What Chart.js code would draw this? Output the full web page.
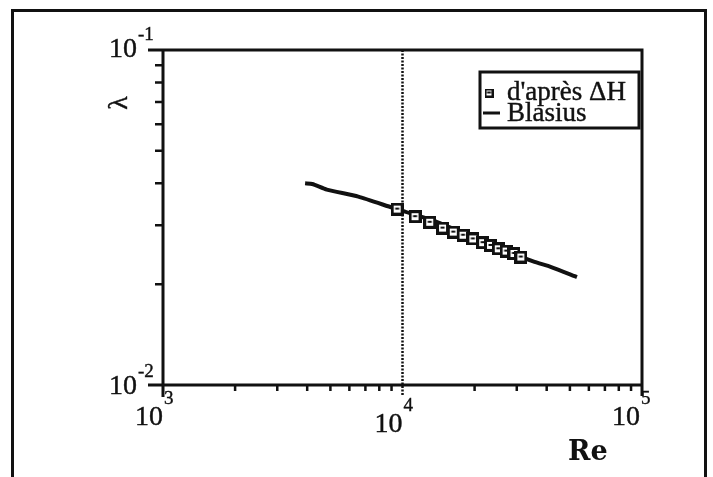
<!DOCTYPE html>
<html>
<head>
<meta charset="utf-8">
<script src="https://cdn.jsdelivr.net/npm/chart.js@4.4.1/dist/chart.umd.min.js"></script>
<style>
  html, body { margin: 0; padding: 0; background: #fff; }
  #wrap { position: relative; width: 713px; height: 477px; overflow: hidden; }
  #frame { position: absolute; left: 11px; top: 9px; width: 690px; height: 480px;
           border: 3px solid #111; border-bottom: none; }
  #c { position: absolute; left: 0; top: 0; }
</style>
</head>
<body>
<div id="wrap">
  <div id="frame"></div>
  <canvas id="c" width="713" height="477"></canvas>
</div>
<script>
const reMeasured = [9500, 11280, 12990, 14690, 16290, 17890, 19670, 21610, 23300, 25120, 27080, 29210, 31200];
const lambdaMeasured = [0.0335, 0.0318, 0.0306, 0.0294, 0.0286, 0.0280, 0.0273, 0.0266, 0.0261, 0.0255, 0.0251, 0.0247, 0.0241];

// Blasius curve
const reBlasius = [3920, 4200, 4830, 6540, 9090, 10000, 13870, 18410, 24420, 30900, 35600, 41780, 53500];
const lambdaBlasius = [0.0400, 0.0398, 0.0383, 0.0365, 0.0338, 0.0331, 0.0307, 0.0282, 0.0260, 0.0242, 0.0233, 0.0225, 0.0210];

// axes
const xMajor = [1e3, 1e4, 1e5];
const xMajorExp = ['3', '4', '5'];
const xMinor = [2e3, 3e3, 4e3, 5e3, 6e3, 7e3, 8e3, 9e3, 2e4, 3e4, 4e4, 5e4, 6e4, 7e4, 8e4, 9e4];
const yMajor = [1e-2, 1e-1];
const yMajorExp = ['-2', '-1'];
const yMinor = [0.02, 0.03, 0.04, 0.05, 0.06, 0.07, 0.08, 0.09];
const seriesLabels = ["d'après ΔH", 'Blasius'];

const SERIF = "'Liberation Serif', 'Times New Roman', serif";
const INK = '#111';

// square marker with a small dot in the middle
function makeMarker(size, lw) {
  const cv = document.createElement('canvas');
  cv.width = size; cv.height = size;
  const g = cv.getContext('2d');
  g.fillStyle = '#fff';
  g.fillRect(0, 0, size, size);
  g.strokeStyle = INK;
  g.lineWidth = lw;
  g.strokeRect(lw / 2, lw / 2, size - lw, size - lw);
  g.fillStyle = INK;
  g.fillRect(size / 2 - 2, size / 2 - 1.5, 4, 2);
  return cv;
}
const marker = makeMarker(13, 3);
const legendMarker = makeMarker(9, 2);

function heavyText(ctx, s, x, y) {
  ctx.fillText(s, x, y);
  ctx.lineWidth = 0.4;
  ctx.strokeText(s, x, y);
}

// "10" ending at xEnd, with a raised exponent after it
function powLabel(ctx, exp, xEnd, y, raise) {
  ctx.textBaseline = 'alphabetic';
  ctx.textAlign = 'right';
  ctx.font = '28px ' + SERIF;
  heavyText(ctx, '10', xEnd, y);
  ctx.textAlign = 'left';
  ctx.font = '19px ' + SERIF;
  heavyText(ctx, exp, xEnd + 1, y - raise);
}

const framePlugin = {
  id: 'frame',
  beforeDatasetsDraw(chart) {
    const ctx = chart.ctx;
    const xs = chart.scales.x;
    const a = chart.chartArea;
    ctx.save();
    // dotted line at Re = 10^4
    ctx.strokeStyle = INK;
    ctx.lineWidth = 2.5;
    ctx.setLineDash([2, 1.5]);
    const xm = xs.getPixelForValue(1e4);
    ctx.beginPath();
    ctx.moveTo(xm, a.top);
    ctx.lineTo(xm, a.bottom + 10);
    ctx.stroke();
    ctx.restore();
  },
  afterDraw(chart) {
    const ctx = chart.ctx;
    const xs = chart.scales.x, ys = chart.scales.y;
    const a = chart.chartArea;
    ctx.save();
    ctx.strokeStyle = INK;
    ctx.fillStyle = INK;

    // box
    ctx.lineWidth = 3;
    ctx.beginPath();
    ctx.moveTo(a.left - 15, a.top); ctx.lineTo(a.right + 1.5, a.top);
    ctx.moveTo(a.left - 15, a.bottom); ctx.lineTo(a.right, a.bottom);
    ctx.moveTo(a.left, a.top); ctx.lineTo(a.left, a.bottom + 12);
    ctx.moveTo(a.right, a.top); ctx.lineTo(a.right, a.bottom + 11);
    ctx.stroke();

    // minor ticks
    ctx.lineWidth = 2.5;
    ctx.beginPath();
    xMinor.forEach(v => {
      const px = xs.getPixelForValue(v);
      ctx.moveTo(px, a.bottom); ctx.lineTo(px, a.bottom + 6);
    });
    yMinor.forEach(v => {
      const py = ys.getPixelForValue(v);
      ctx.moveTo(a.left, py); ctx.lineTo(a.left - 8, py);
    });
    ctx.stroke();

    // tick labels
    const xLabelDrop = [40, 47, 40];
    xMajor.forEach((v, i) => {
      powLabel(ctx, xMajorExp[i], xs.getPixelForValue(v) + (i === 2 ? -2 : 0), a.bottom + xLabelDrop[i], 21);
    });
    const yLabelDrop = [9, 7];
    yMajor.forEach((v, i) => {
      powLabel(ctx, yMajorExp[i], a.left - 26, ys.getPixelForValue(v) + yLabelDrop[i], 17);
    });

    // axis titles
    ctx.font = 'bold 27px "DejaVu Serif", serif';
    ctx.textAlign = 'left';
    ctx.textBaseline = 'alphabetic';
    ctx.fillText('Re', 568, 460);
    ctx.save();
    ctx.translate(120, 103);
    ctx.rotate(-Math.PI / 2);
    ctx.font = '28px ' + SERIF;
    ctx.textAlign = 'center';
    ctx.textBaseline = 'middle';
    heavyText(ctx, 'λ', 0, 0);
    ctx.restore();

    // legend
    ctx.lineWidth = 3;
    ctx.strokeRect(480, 72, 159, 56);
    ctx.drawImage(legendMarker, 489 - 4.5, 93 - 4.5);
    ctx.beginPath();
    ctx.moveTo(483, 113); ctx.lineTo(500, 113);
    ctx.stroke();
    ctx.font = '27px ' + SERIF;
    ctx.textAlign = 'left';
    ctx.textBaseline = 'alphabetic';
    heavyText(ctx, seriesLabels[0], 507, 100);
    heavyText(ctx, seriesLabels[1], 507, 121);
    ctx.restore();
  }
};

new Chart(document.getElementById('c'), {
  type: 'scatter',
  data: {
    datasets: [
      {
        label: seriesLabels[0],
        data: reMeasured.map((r, i) => ({ x: r, y: lambdaMeasured[i] })),
        pointStyle: marker,
        pointRadius: 7,
        showLine: false,
        order: 0
      },
      {
        label: seriesLabels[1],
        data: reBlasius.map((r, i) => ({ x: r, y: lambdaBlasius[i] })),
        showLine: true,
        borderColor: INK,
        borderWidth: 4,
        pointRadius: 0,
        tension: 0.2,
        order: 1
      }
    ]
  },
  options: {
    responsive: false,
    animation: false,
    layout: { padding: { left: 163, right: 71, top: 50, bottom: 92 } },
    plugins: { legend: { display: false }, tooltip: { enabled: false } },
    scales: {
      x: { type: 'logarithmic', min: 1e3, max: 1e5, display: false },
      y: { type: 'logarithmic', min: 1e-2, max: 1e-1, display: false }
    }
  },
  plugins: [framePlugin]
});
</script>
</body>
</html>
